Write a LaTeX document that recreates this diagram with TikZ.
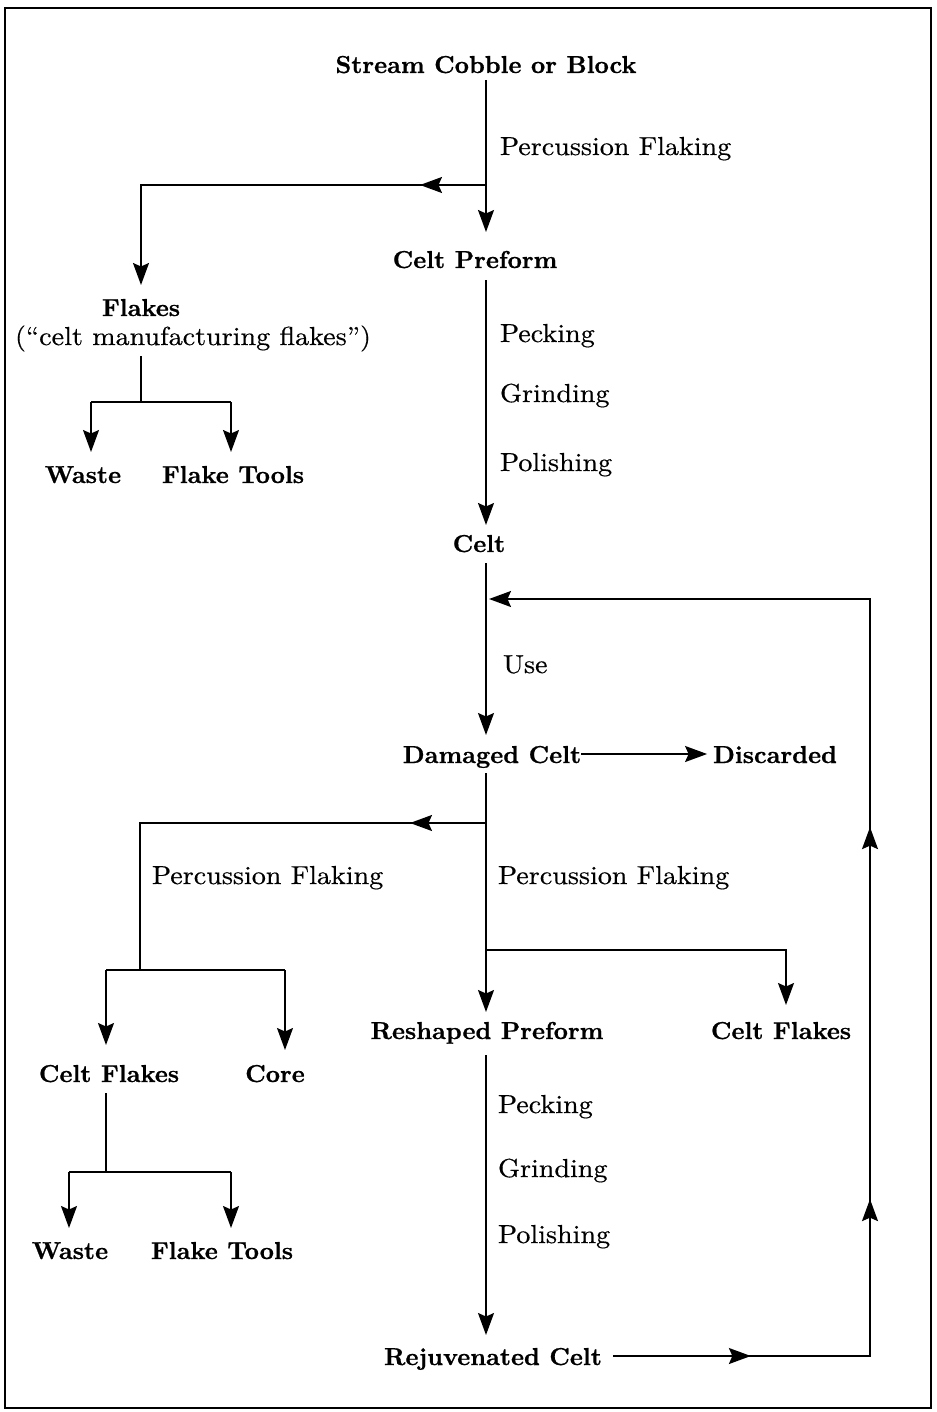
\documentclass[tikz,border=0pt]{standalone}
\usepackage{fontspec}
\newfontfamily\regfont{lmroman10-regular.otf}[Ligatures=TeX,FakeStretch=1.08,FakeBold=0.5]
\newfontfamily\boldfont{lmroman10-bold.otf}[Ligatures=TeX,FakeStretch=1.01,FakeBold=0.8]
\usetikzlibrary{arrows.meta,decorations.markings,calc}
\begin{document}
\begin{tikzpicture}[x=1pt,y=-1pt,
  >={Stealth[length=22pt,width=16pt,inset=3.5pt]},
  ln/.style={line width=1.6pt},
  bnode/.style={inner sep=0pt,outer sep=0pt,anchor=base,text height=17pt,text depth=5pt,font=\boldfont\fontsize{24.5}{28}\selectfont},
  rnode/.style={inner sep=0pt,outer sep=0pt,anchor=base west,text height=18pt,text depth=6pt,font=\regfont\fontsize{26}{30}\selectfont},
  midarr/.style={postaction={decorate},decoration={markings,mark=at position #1 with {\arrow{>}}}}
]
\useasboundingbox (0,0) rectangle (936,1412);
\draw[line width=2.5pt] (5,8) rectangle (931,1408);

% nodes
\node[bnode] (stream) at (486,73) {Stream Cobble or Block};
\node[rnode] (pf1) at (500,155) {Percussion Flaking};
\node[bnode] (preform) at (475,268) {Celt Preform};
\node[bnode] (flakes) at (141,316) {Flakes};
\node[rnode,anchor=base] (cmf) at (193,345) {(``celt manufacturing flakes'')};
\node[bnode] (waste1) at (83,483) {Waste};
\node[bnode] (tools1) at (233,483) {Flake Tools};
\node[rnode] (peck1) at (500,342) {Pecking};
\node[rnode] (grind1) at (500,402) {Grinding};
\node[rnode] (pol1) at (500,471) {Polishing};
\node[bnode] (celt) at (479,552) {Celt};
\node[rnode] (use) at (503,673) {Use};
\node[bnode] (damaged) at (492,763) {Damaged Celt};
\node[bnode] (discarded) at (775,763) {Discarded};
\node[rnode] (pf2) at (498,884) {Percussion Flaking};
\node[rnode] (pf3) at (152,884) {Percussion Flaking};
\node[bnode] (reshaped) at (487,1039) {Reshaped Preform};
\node[bnode] (cflakes2) at (781,1039) {Celt Flakes};
\node[bnode] (cflakes1) at (109,1082) {Celt Flakes};
\node[bnode] (core) at (275,1082) {Core};
\node[rnode] (peck2) at (498,1113) {Pecking};
\node[rnode] (grind2) at (498,1177) {Grinding};
\node[rnode] (pol2) at (498,1243) {Polishing};
\node[bnode] (rejuv) at (493,1365) {Rejuvenated Celt};
\node[bnode] (waste2) at (70,1259) {Waste};
\node[bnode] (tools2) at (222,1259) {Flake Tools};

% junction coordinates
\coordinate (j1) at (486,185);
\coordinate (j5) at (141,402);
\coordinate (b4) at (91,402);
\coordinate (b5) at (231,402);
\coordinate (j2) at (486,823);
\coordinate (j3) at (140,970);
\coordinate (b1) at (106,970);
\coordinate (b2) at (285,970);
\coordinate (j4) at (486,950);
\coordinate (b3) at (786,950);
\coordinate (j6) at (106,1172);
\coordinate (b6) at (69,1172);
\coordinate (b7) at (231,1172);
\coordinate (rjout) at ([xshift=11pt,yshift=9pt]rejuv.base east);
\coordinate (rc) at (870,1356);
\coordinate (lc) at (870,599);
\coordinate (loopend) at (489,599);

% main spine
\draw[ln,->,shorten <=2pt,shorten >=19pt] (stream.south) -- (stream.south |- preform.north);
\draw[ln,->,midarr=66pt,shorten >=14pt] (j1) -| (flakes.north);
\draw[ln,->,shorten <=7pt,shorten >=10pt] (stream.south |- preform.south) -- (stream.south |- celt.north);
\draw[ln,->,shorten <=6pt,shorten >=11pt] (stream.south |- celt.south) -- (stream.south |- damaged.north);
\draw[ln,->,shorten >=6pt] ([yshift=9pt]damaged.base east) -- ([yshift=9pt]discarded.base west);
\draw[ln,->,shorten <=5pt,shorten >=10pt] (stream.south |- damaged.south) -- (stream.south |- reshaped.north);
\draw[ln,->,shorten <=11pt,shorten >=13pt] (stream.south |- reshaped.south) -- (stream.south |- rejuv.north);

% flakes branch
\draw[ln,shorten <=5pt] (flakes.south |- cmf.south) -- (j5);
\draw[ln] (b4) -- (b5);
\draw[ln,->,shorten >=14pt] (b4) -- (b4 |- waste1.north);
\draw[ln,->,shorten >=14pt] (b5) -- (b5 |- tools1.north);

% left branch from damaged celt
\draw[ln,midarr=76pt] (j2) -| (j3);
\draw[ln] (b1) -- (b2);
\draw[ln,->,shorten >=20pt] (b1) -- (b1 |- cflakes1.north);
\draw[ln,->,shorten >=15pt] (b2) -- (b2 |- core.north);
\draw[ln,shorten <=6pt] (b1 |- cflakes1.south) -- (j6);
\draw[ln] (b6) -- (b7);
\draw[ln,->,shorten >=14pt] (b6) -- (b6 |- waste2.north);
\draw[ln,->,shorten >=14pt] (b7) -- (b7 |- tools2.north);

% right branch
\draw[ln,->,shorten >=17pt] (j4) -- (b3) -- (b3 |- cflakes2.north);

% loop back
\draw[ln,->,postaction={decorate},decoration={markings,
   mark=at position 138pt with {\arrow{>}},
   mark=at position 414pt with {\arrow{>}},
   mark=at position 786pt with {\arrow{>}}}]
  (rjout) -- (rc) -- (lc) -- (loopend);
\end{tikzpicture}
\end{document}
